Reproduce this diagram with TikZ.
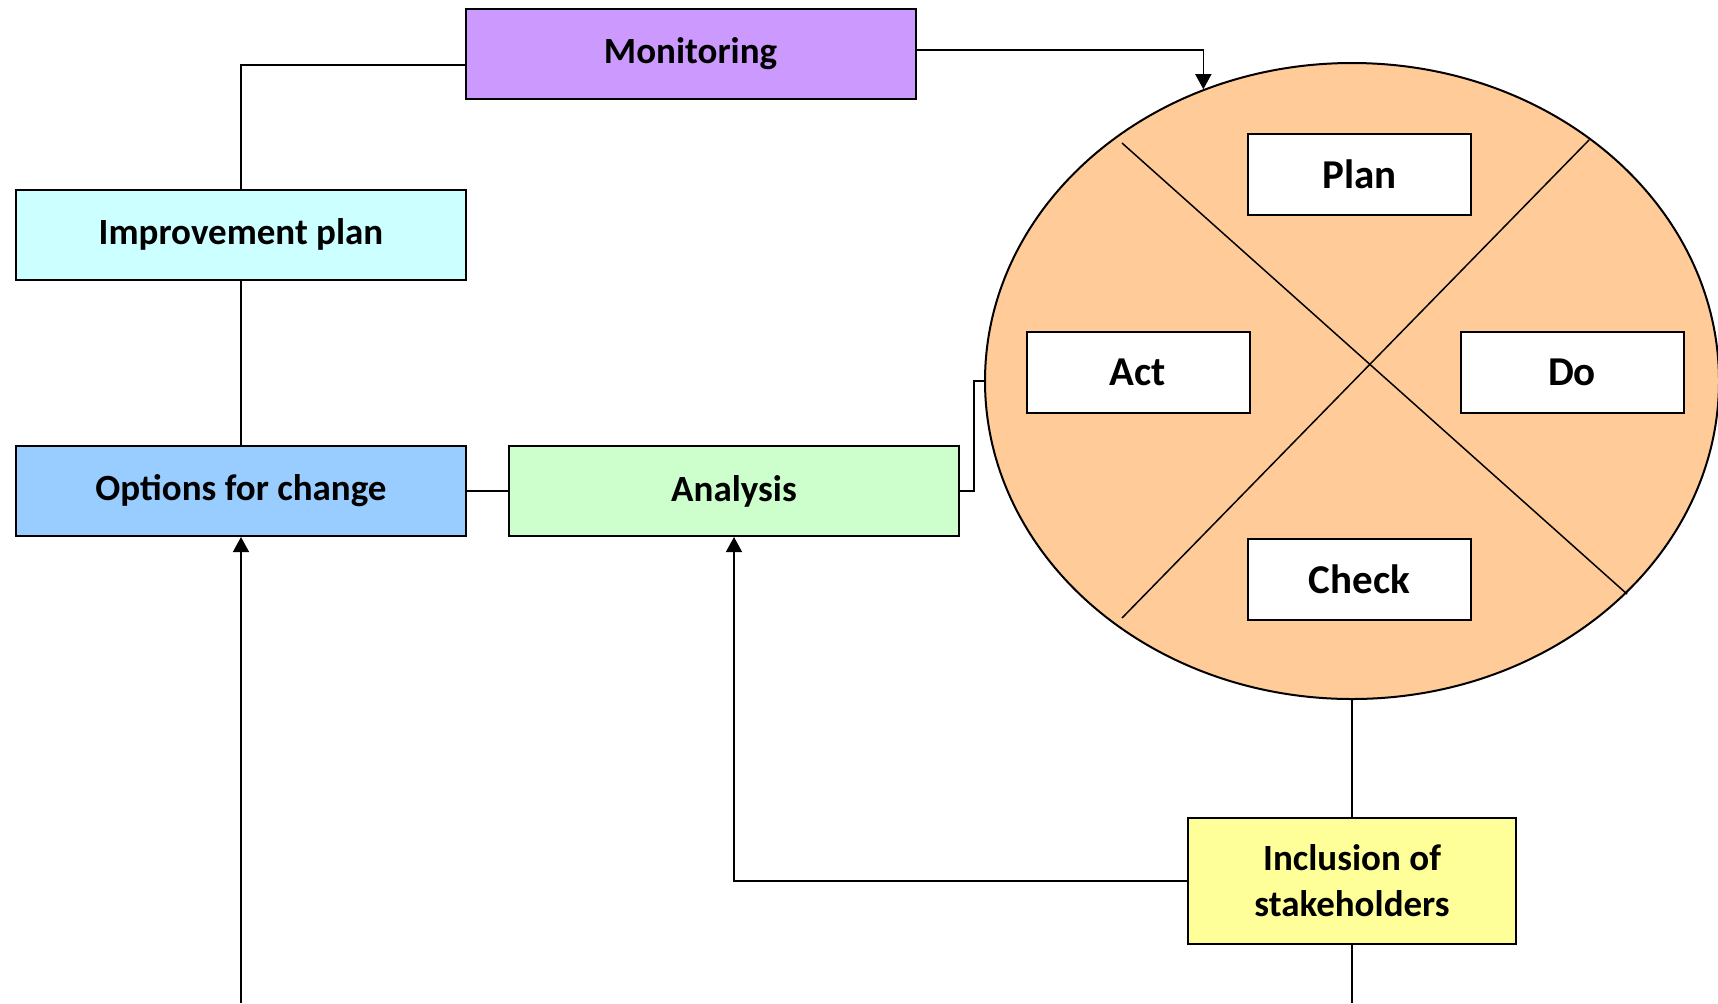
\documentclass[tikz,border=0pt]{standalone}
\usepackage{fontspec}
\setmainfont{Carlito}
\usetikzlibrary{shapes.geometric}
\usetikzlibrary{arrows.meta}
\definecolor{monpurple}{HTML}{CC99FF}
\definecolor{impcyan}{HTML}{CCFFFF}
\definecolor{optblue}{HTML}{99CCFF}
\definecolor{anagreen}{HTML}{CCFFCC}
\definecolor{pdcaorange}{HTML}{FFCC99}
\definecolor{incyellow}{HTML}{FFFF99}
\tikzset{
    cell/.style = {rectangle, draw=black, line width=1pt, align=center, inner sep=0pt, minimum width=225pt, minimum height=45pt, font=\bfseries\fontsize{18.5}{23}\selectfont},
    cellin/.style = {rectangle, draw=black, line width=1pt, fill=white, inner sep=0pt, minimum width=111.5pt, minimum height=40.5pt, font=\bfseries\fontsize{20.5}{24}\selectfont},
    pdcanode/.style = {ellipse, draw=black, line width=1pt, fill=pdcaorange, inner sep=0pt, minimum width=367pt, minimum height=318pt},
    edgen/.style = {line width=0.75pt},
    edgea/.style = {-{Triangle[length=7.5pt,width=8pt]},line width=0.75pt}, % arrow
    crossl/.style = {line width=0.75pt}
}
\begin{document}
\begin{tikzpicture}[x=0.5pt, y=-0.5pt]
  \useasboundingbox (0,0) rectangle (1718,1003);

  \node[pdcanode] at (1352,381) (pdca) {};
  \draw[crossl] (1122,143) -- (1627,594);
  \draw[crossl] (1589,140) -- (1122,618);

  \node[cellin] at (1359.5,174) (plan) {Plan};
  \node[cellin] at (1138,372) (act) {Act};
  \node[cellin] at (1572,372) (do) {Do};
  \node[cellin] at (1359.5,579.5) (check) {Check};

  \node[cell, fill=monpurple] at (690.5,54) (mon) {Monitoring};
  \node[cell, fill=impcyan] at (241,234.5) (imp) {Improvement plan};
  \node[cell, fill=optblue] at (241,491) (opt) {Options for change};
  \node[cell, fill=anagreen] at (734,491) (ana) {Analysis};
  \node[cell, fill=incyellow, minimum width=164pt, minimum height=63pt] at (1352,881) (inc) {Inclusion of\\stakeholders};

  \coordinate (optin) at (241,1003);
  \coordinate (incout) at (1352,1003);

  \draw[edgen] ([yshift=-5.5pt]mon.west) -| (imp.north);
  \draw[edgen] (imp.south) -- (opt.north);
  \draw[edgen] (opt.east) -- (ana.west);
  \draw[edgen] (ana.east) -- ++(14,0) |- (pdca.west);
  \draw[edgea] ([yshift=2pt]mon.east) -| (pdca.117);
  \draw[edgen] (pdca.south) -- (inc.north);
  \draw[edgea] (inc.west) -| (ana.south);
  \draw[edgen] (inc.south) -- (incout);
  \draw[edgea] (optin) -- (opt.south);
\end{tikzpicture}
\end{document}
